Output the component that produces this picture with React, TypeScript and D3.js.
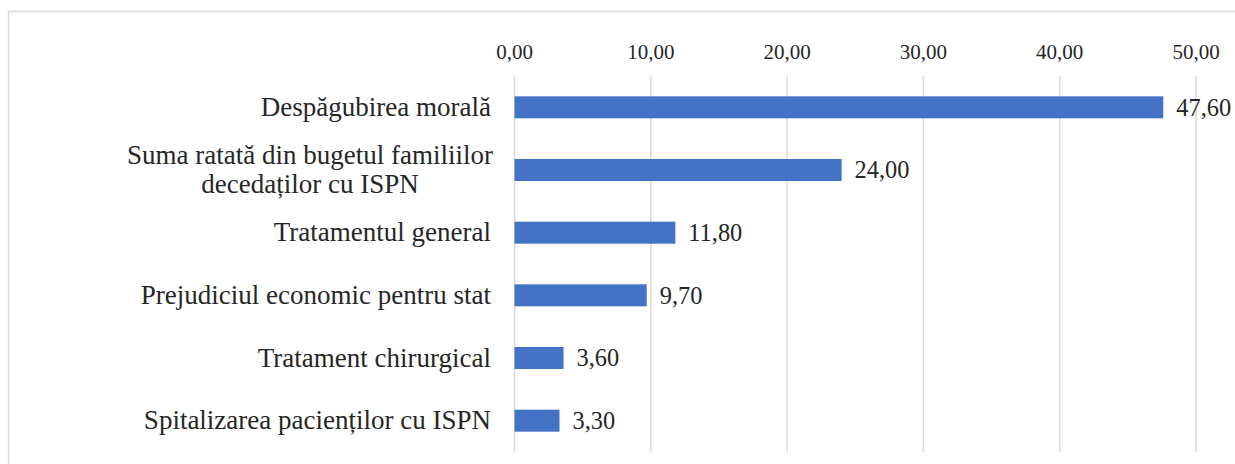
import React from "react";
import * as d3 from "d3";

const categories: string[][] = [
  ["Despăgubirea morală"],
  ["Suma ratată din bugetul familiilor", "decedaților cu ISPN"],
  ["Tratamentul general"],
  ["Prejudiciul economic pentru stat"],
  ["Tratament chirurgical"],
  ["Spitalizarea pacienților cu ISPN"],
];
const values: number[] = [47.6, 24.0, 11.8, 9.7, 3.6, 3.3];
const ticks: number[] = [0, 10, 20, 30, 40, 50];

const W = 1235;
const H = 464;
const fmt = (v: number) => v.toFixed(2).replace(".", ",");

export default function App() {
  const x = d3.scaleLinear().domain([0, 50]).range([514.5, 1196]);
  const y = d3
    .scaleBand<number>()
    .domain(d3.range(categories.length))
    .range([76, 452])
    .padding(0);
  const barH = 22;
  const font = "'Liberation Serif', 'Times New Roman', serif";
  return (
    <svg
      width={W}
      height={H}
      style={{ position: "absolute", left: 0, top: 0, background: "#fff" }}
      fontFamily={font}
    >
      <rect x={8.5} y={11.5} width={W + 10} height={H + 10} fill="#fff" stroke="#d9d9d9" strokeWidth={1.5} />
      {ticks.map((t) => (
        <g key={t}>
          <line x1={x(t)} x2={x(t)} y1={76} y2={452} stroke="#d9d9d9" strokeWidth={1.5} />
          <text x={x(t)} y={59} textAnchor="middle" fontSize={21} fill="#262626">
            {fmt(t)}
          </text>
        </g>
      ))}
      {values.map((v, i) => {
        const cy = (y(i) as number) + y.bandwidth() / 2;
        const lines = categories[i];
        const lh = 28.5;
        const multi = lines.length > 1;
        return (
          <g key={i}>
            <rect x={x(0)} y={cy - barH / 2} width={x(v) - x(0)} height={barH} fill="#4472C4" />
            <text x={x(v) + 13} y={cy + 8.3} fontSize={24.4} fill="#262626">
              {fmt(v)}
            </text>
            {lines.map((l, j) => (
              <text
                key={j}
                x={multi ? 310 : 491}
                y={cy + 8.5 + (j - (lines.length - 1) / 2) * lh}
                textAnchor={multi ? "middle" : "end"}
                fontSize={27}
                fill="#262626"
              >
                {l}
              </text>
            ))}
          </g>
        );
      })}
    </svg>
  );
}
